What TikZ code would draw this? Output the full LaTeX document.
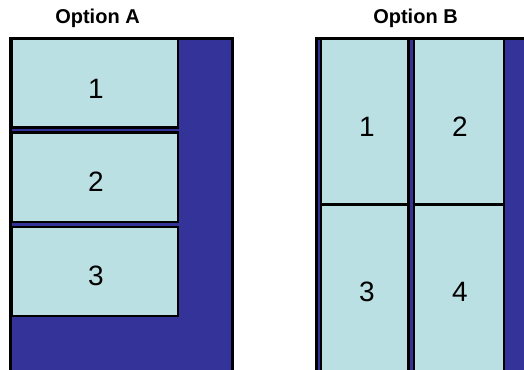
\documentclass[tikz,border=0pt]{standalone}
\usepackage{fontspec}
\setmainfont{Liberation Sans}
\definecolor{panelblue}{HTML}{333399}
\definecolor{cellfill}{HTML}{BBE0E3}
\begin{document}
\begin{tikzpicture}[x=1pt,y=-1pt,
  frame/.style={fill=panelblue,draw=black,line width=3pt},
  cell/.style={fill=cellfill,draw=black,line width=2.5pt},
  title/.style={font=\fontsize{20}{24}\selectfont\bfseries,inner sep=0pt},
  num/.style={font=\fontsize{28}{32}\selectfont,inner sep=0pt}]
\useasboundingbox (0,0) rectangle (524,369);
\clip (0,0) rectangle (524,369);

% Option A: three stacked cells inside the frame
\node[title] (titleA) at (97.5,18.5) {Option A};
\path[frame] (10.5,38.5) rectangle (232.5,372);
\path[cell] (11.5,38.5) rectangle (178,127.5);
\path[cell] (11.5,132.5) rectangle (178,221.8);
\path[cell] (11.5,226.8) rectangle (178,316);
\node[num] (a1) at (96,88.5) {1};
\node[num] (a2) at (96,182) {2};
\node[num] (a3) at (96,276) {3};

% Option B: a two-by-two grid of cells inside the frame
\node[title] (titleB) at (415.5,18.5) {Option B};
\path[frame] (316.5,38.5) rectangle (540,380);
\path[cell] (321,38.5) rectangle (408.7,204.5);
\path[cell] (413.8,38.5) rectangle (504,204.5);
\path[cell] (321,204.5) rectangle (408.7,375);
\path[cell] (413.8,204.5) rectangle (504,375);
\node[num] (b1) at (367,126.5) {1};
\node[num] (b2) at (460,126.5) {2};
\node[num] (b3) at (367,292) {3};
\node[num] (b4) at (460,292) {4};
\end{tikzpicture}
\end{document}
